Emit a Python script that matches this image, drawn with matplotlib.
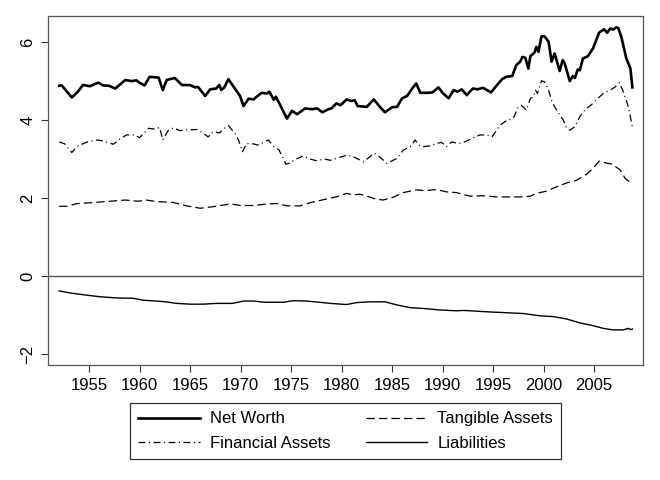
import matplotlib
matplotlib.use('Agg')
import matplotlib.pyplot as plt

plt.rcParams['font.family'] = ['Liberation Sans', 'DejaVu Sans']
plt.rcParams['lines.scale_dashes'] = False

# values (year, value)
nw_years = [1952.05, 1952.3, 1953.3, 1953.9, 1954.4, 1955.1, 1955.9, 1956.4, 1957.0, 1957.6,
            1958.6, 1959.2, 1959.7, 1960.0, 1960.5, 1961.0, 1961.9, 1962.3, 1962.7, 1963.5,
            1964.2, 1965.0, 1965.5, 1965.8, 1966.5, 1967.0, 1967.6, 1967.9, 1968.1, 1968.4,
            1968.8, 1969.2, 1969.95, 1970.3, 1970.8, 1971.3, 1971.6, 1972.1, 1972.6, 1972.85,
            1973.3, 1973.5, 1973.9, 1974.6, 1975.1, 1975.6, 1976.4, 1977.1, 1977.6, 1978.1,
            1978.7, 1979.0, 1979.5, 1979.9, 1980.5, 1981.0, 1981.3, 1981.6, 1982.5, 1983.2,
            1983.8, 1984.3, 1985.0, 1985.5, 1986.0, 1986.5, 1987.0, 1987.4, 1987.8, 1988.5,
            1989.0, 1989.6, 1990.0, 1990.6, 1991.1, 1991.5, 1991.9, 1992.4, 1993.0, 1993.5,
            1994.0, 1994.8, 1995.4, 1995.9, 1996.3, 1996.9, 1997.3, 1997.7, 1997.9, 1998.2,
            1998.5, 1998.7, 1999.1, 1999.3, 1999.5, 1999.8, 2000.1, 2000.5, 2000.8, 2001.1,
            2001.6, 2001.9, 2002.1, 2002.6, 2002.9, 2003.1, 2003.4, 2003.6, 2003.9, 2004.4,
            2004.9, 2005.5, 2006.0, 2006.3, 2006.6, 2006.9, 2007.2, 2007.4, 2007.7, 2008.2,
            2008.6, 2008.8]
net_worth = [4.88, 4.89, 4.58, 4.73, 4.90, 4.87, 4.96, 4.89, 4.88, 4.81,
             5.03, 5.00, 5.02, 4.96, 4.89, 5.11, 5.09, 4.77, 5.03, 5.08,
             4.90, 4.90, 4.84, 4.85, 4.62, 4.79, 4.81, 4.90, 4.77, 4.84,
             5.05, 4.90, 4.62, 4.36, 4.55, 4.53, 4.60, 4.70, 4.68, 4.73,
             4.52, 4.60, 4.40, 4.04, 4.24, 4.15, 4.30, 4.28, 4.30, 4.20,
             4.28, 4.30, 4.43, 4.38, 4.53, 4.49, 4.51, 4.36, 4.34, 4.53,
             4.34, 4.20, 4.33, 4.34, 4.56, 4.62, 4.81, 4.94, 4.70, 4.70,
             4.71, 4.84, 4.70, 4.56, 4.77, 4.73, 4.79, 4.64, 4.81, 4.79,
             4.83, 4.71, 4.90, 5.05, 5.11, 5.13, 5.41, 5.50, 5.62, 5.60,
             5.32, 5.64, 5.73, 5.88, 5.75, 6.15, 6.15, 6.01, 5.50, 5.71,
             5.26, 5.54, 5.45, 5.00, 5.13, 5.08, 5.30, 5.28, 5.58, 5.64,
             5.84, 6.24, 6.33, 6.24, 6.35, 6.32, 6.38, 6.36, 6.14, 5.58,
             5.33, 4.84]

fa_years = [1952.05, 1952.6, 1953.3, 1953.8, 1954.8, 1955.8, 1956.4, 1957.4, 1958.0, 1958.7,
            1959.5, 1960.0, 1960.9, 1961.5, 1962.0, 1962.3, 1962.9, 1963.4, 1964.0, 1964.7,
            1965.7, 1966.2, 1966.8, 1967.3, 1967.9, 1968.6, 1968.8, 1969.45, 1969.8, 1970.2,
            1970.6, 1971.3, 1971.7, 1972.2, 1972.75, 1973.3, 1973.8, 1974.5, 1974.9, 1975.4,
            1976.2, 1976.9, 1977.5, 1978.3, 1978.9, 1980.5, 1981.1, 1982.2, 1983.2, 1983.5,
            1984.5, 1985.5, 1986.1, 1986.8, 1987.3, 1987.6, 1988.1, 1988.8, 1989.4, 1989.9,
            1990.4, 1990.9, 1991.6, 1992.2, 1992.9, 1993.7, 1994.4, 1994.9, 1995.7, 1996.4,
            1997.0, 1997.5, 1997.8, 1998.3, 1998.7, 1999.0, 1999.2, 1999.4, 1999.8, 2000.1,
            2000.5, 2000.8, 2001.1, 2001.5, 2001.95, 2002.3, 2002.6, 2003.1, 2003.6, 2004.1,
            2004.9, 2005.4, 2005.9, 2006.6, 2007.1, 2007.5, 2007.9, 2008.4, 2008.8]
financial = [3.44, 3.39, 3.17, 3.32, 3.44, 3.49, 3.47, 3.38, 3.50, 3.62,
             3.62, 3.55, 3.79, 3.77, 3.81, 3.49, 3.76, 3.80, 3.73, 3.75,
             3.76, 3.68, 3.57, 3.71, 3.67, 3.83, 3.86, 3.66, 3.49, 3.19,
             3.40, 3.39, 3.36, 3.42, 3.49, 3.32, 3.24, 2.87, 2.90, 2.99,
             3.08, 3.00, 2.96, 3.00, 2.97, 3.10, 3.07, 2.93, 3.15, 3.12,
             2.89, 3.02, 3.23, 3.32, 3.49, 3.36, 3.32, 3.34, 3.40, 3.43,
             3.32, 3.44, 3.40, 3.44, 3.53, 3.62, 3.62, 3.57, 3.87, 4.00,
             4.04, 4.34, 4.38, 4.26, 4.56, 4.60, 4.77, 4.68, 5.01, 4.98,
             4.77, 4.51, 4.34, 4.17, 4.00, 3.79, 3.74, 3.83, 4.09, 4.26,
             4.43, 4.56, 4.68, 4.77, 4.85, 4.96, 4.73, 4.34, 3.83]

ta_years = [1952.05, 1952.8, 1953.8, 1955.1, 1956.1, 1957.1, 1958.6, 1959.9, 1960.7, 1961.7,
            1963.3, 1964.7, 1966.0, 1967.3, 1969.0, 1970.0, 1971.3, 1972.6, 1973.6, 1974.6,
            1975.9, 1977.0, 1978.4, 1978.9, 1979.6, 1980.5, 1981.2, 1981.7, 1982.2, 1983.2,
            1984.1, 1985.1, 1986.1, 1987.4, 1988.3, 1989.4, 1990.4, 1991.4, 1992.7, 1994.0,
            1995.4, 1996.7, 1998.0, 1998.7, 1999.3, 2000.3, 2001.3, 2002.3, 2003.3, 2004.3,
            2004.9, 2005.5, 2006.2, 2006.8, 2007.6, 2008.1, 2008.7]
tangible = [1.79, 1.79, 1.86, 1.88, 1.90, 1.92, 1.95, 1.92, 1.95, 1.91,
            1.89, 1.80, 1.74, 1.78, 1.85, 1.81, 1.81, 1.85, 1.86, 1.80,
            1.80, 1.89, 1.97, 2.00, 2.04, 2.12, 2.08, 2.10, 2.08, 1.99,
            1.95, 2.02, 2.14, 2.21, 2.19, 2.22, 2.16, 2.14, 2.05, 2.06,
            2.03, 2.03, 2.03, 2.05, 2.12, 2.18, 2.29, 2.39, 2.46, 2.62,
            2.76, 2.95, 2.90, 2.87, 2.72, 2.50, 2.38]

li_years = [1952.05, 1953.3, 1954.8, 1956.1, 1957.7, 1959.4, 1960.4, 1961.7, 1962.6, 1963.7,
            1965.0, 1966.3, 1967.6, 1969.2, 1970.3, 1971.3, 1972.3, 1974.3, 1975.2, 1976.5,
            1977.8, 1978.9, 1980.5, 1981.5, 1982.8, 1984.3, 1985.5, 1986.8, 1988.1, 1989.8,
            1991.4, 1992.1, 1993.4, 1994.7, 1996.4, 1998.0, 1999.7, 2001.0, 2002.3, 2003.6,
            2004.9, 2005.9, 2006.9, 2007.9, 2008.4, 2008.6, 2008.8]
liabilities = [-0.38, -0.44, -0.49, -0.53, -0.56, -0.57, -0.62, -0.64, -0.66, -0.70,
               -0.72, -0.72, -0.70, -0.70, -0.64, -0.64, -0.67, -0.67, -0.63, -0.64,
               -0.67, -0.70, -0.73, -0.68, -0.66, -0.66, -0.74, -0.81, -0.83, -0.87,
               -0.89, -0.88, -0.90, -0.92, -0.94, -0.96, -1.02, -1.04, -1.10, -1.20,
               -1.27, -1.34, -1.38, -1.38, -1.34, -1.37, -1.36]

x_ticks = [1955, 1960, 1965, 1970, 1975, 1980, 1985, 1990, 1995, 2000, 2005]
y_ticks = [-2, 0, 2, 4, 6]

fig = plt.figure(figsize=(6.6, 4.8), dpi=100)
ax = fig.add_axes([48 / 660, 1 - 365 / 480, 595 / 660, 349 / 480])

ax.axhline(0, color='#555555', linewidth=1.0)
l_nw, = ax.plot(nw_years, net_worth, color='black', linewidth=1.9, label='Net Worth')
l_fa, = ax.plot(fa_years, financial, color='black', linewidth=0.9,
                dashes=(5, 2.5, 0.8, 2.5), label='Financial Assets')
l_ta, = ax.plot(ta_years, tangible, color='black', linewidth=0.9,
                dashes=(6, 3), label='Tangible Assets')
l_li, = ax.plot(li_years, liabilities, color='black', linewidth=1.0, label='Liabilities')

ax.set_xlim(1950.94, 2009.85)
ax.set_ylim(-2.28, 6.67)
ax.set_xticks(x_ticks)
ax.set_yticks(y_ticks)
ax.set_yticklabels(['\u22122', '0', '2', '4', '6'], rotation=90, va='center')
ax.tick_params(axis='both', direction='out', length=5, width=0.8, color='#333333',
               labelsize=12, pad=4)

for s in ax.spines.values():
    s.set_color('#555555')
    s.set_linewidth(0.9)

leg = fig.legend(handles=[l_nw, l_fa, l_ta, l_li], ncol=2, loc='upper left',
                 bbox_to_anchor=(130 / 660, 1 - 403 / 480), borderaxespad=0,
                 fontsize=12, handlelength=3.7, handletextpad=0.6, columnspacing=2.1,
                 labelspacing=0.55, borderpad=0.5, fancybox=False, framealpha=1,
                 edgecolor='#333333')
leg.get_frame().set_linewidth(0.9)

plt.savefig('out.png', dpi=100)
